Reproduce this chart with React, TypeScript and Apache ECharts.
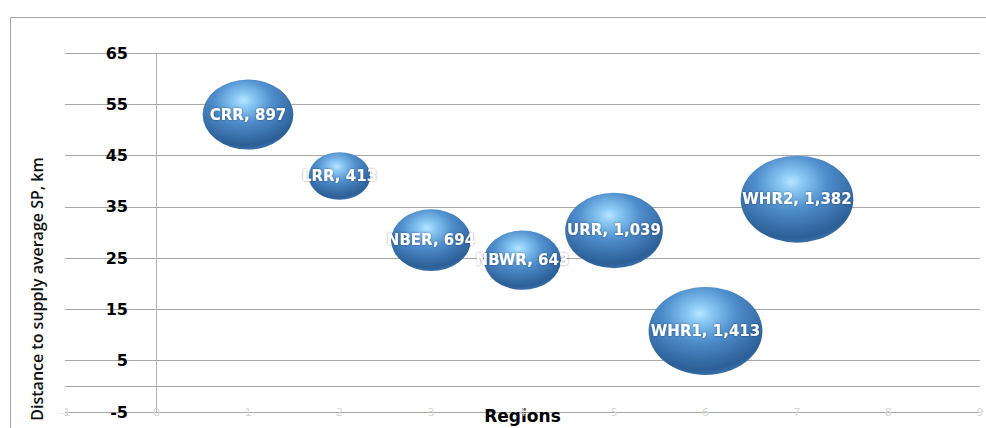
import React, { useEffect, useRef } from "react";
import * as echarts from "echarts";

const regions = ["CRR", "LRR", "NBER", "NBWR", "URR", "WHR1", "WHR2"];
const regionIndex = [1, 2, 3, 4, 5, 6, 7];
const distanceKm = [53, 41, 28.5, 24.6, 30.4, 10.8, 36.5];
const bubbleValues = [897, 413, 694, 643, 1039, 1413, 1382];

const xMin = -1;
const xMax = 9;
const yMin = -5;
const yMax = 65;

const yTitle = "Distance to supply average SP, km";
const xTitle = "Regions";

export default function App() {
  const ref = useRef<HTMLDivElement>(null);
  useEffect(() => {
    if (!ref.current) return;
    const chart = echarts.init(ref.current, undefined, { renderer: "svg" });
    const data = regions.map((r, i) => [regionIndex[i], distanceKm[i], bubbleValues[i], r]);
    const bubbleFill = {
      type: "radial",
      x: 0.45,
      y: 0.3,
      r: 0.8,
      colorStops: [
        { offset: 0, color: "#b8e6ff" },
        { offset: 0.12, color: "#8ccaf5" },
        { offset: 0.4, color: "#4f8dcc" },
        { offset: 0.8, color: "#2c5f96" },
        { offset: 1, color: "#4a86c2" },
      ],
    };
    chart.setOption({
      animation: false,
      backgroundColor: "#ffffff",
      grid: {
        left: 65,
        right: 6,
        top: 53,
        bottom: 16,
        containLabel: false,
        outerBoundsMode: "none",
      },
      xAxis: {
        type: "value",
        min: xMin,
        max: xMax,
        interval: 1,
        name: xTitle,
        nameLocation: "middle",
        nameGap: -5,
        nameMoveOverlap: false,
        nameTextStyle: {
          fontFamily: "DejaVu Sans",
          fontWeight: "bold",
          fontSize: 17,
          color: "#000",
        },
        axisLine: { show: false, onZero: false },
        axisTick: { show: false },
        splitLine: { show: false },
        axisLabel: {
          color: "#d6d6d6",
          fontSize: 11,
          fontFamily: "DejaVu Sans",
          margin: 0,
          verticalAlign: "middle",
        },
      },
      yAxis: {
        type: "value",
        min: yMin,
        max: yMax,
        interval: 10,
        axisLine: { show: true, onZero: true, lineStyle: { color: "#b3b3b3", width: 1 } },
        axisTick: { show: false },
        axisLabel: {
          color: "#000",
          fontFamily: "DejaVu Sans",
          fontWeight: "bold",
          fontSize: 16,
          margin: -63,
        },
        splitLine: { show: true, lineStyle: { color: "#a8a8a8", width: 1 } },
      },
      graphic: [
        {
          type: "rect",
          shape: { x: 10.5, y: 17.5, width: 990, height: 430 },
          style: { fill: "none", stroke: "#a6a6a6", lineWidth: 1 },
          silent: true,
        },
        {
          type: "text",
          x: 37,
          y: 289,
          rotation: Math.PI / 2,
          style: {
            text: yTitle,
            fontFamily: "Open Sans",
            fontSize: 16,
            fontWeight: 600,
            fill: "#111",
            align: "center",
            verticalAlign: "middle",
          },
          silent: true,
        },
      ],
      series: [
        {
          type: "scatter",
          data,
          symbol: "path://M0,-1A1,1 0 1,1 0,1A1,1 0 1,1 0,-1Z",
          symbolSize: (v: any) => [3.03 * Math.sqrt(v[2]), 2.34 * Math.sqrt(v[2])],
          itemStyle: { color: bubbleFill, opacity: 1 },
          label: {
            show: true,
            position: "inside",
            color: "#ffffff",
            fontFamily: "DejaVu Sans",
            fontWeight: "bold",
            fontSize: 15,
            textShadowColor: "rgba(0,0,0,0.45)",
            textShadowBlur: 2,
            formatter: (p: any) => `${p.data[3]}, ${Number(p.data[2]).toLocaleString("en-US")}`,
          },
          markLine: {
            silent: true,
            symbol: "none",
            label: { show: false },
            lineStyle: { color: "#a8a8a8", width: 1, type: "solid" },
            data: [{ yAxis: 0 }],
          },
        },
      ],
    });
    return () => chart.dispose();
  }, []);
  return (
    <div
      ref={ref}
      style={{ position: "fixed", left: 0, top: 0, width: 986, height: 428, background: "#fff" }}
    />
  );
}
